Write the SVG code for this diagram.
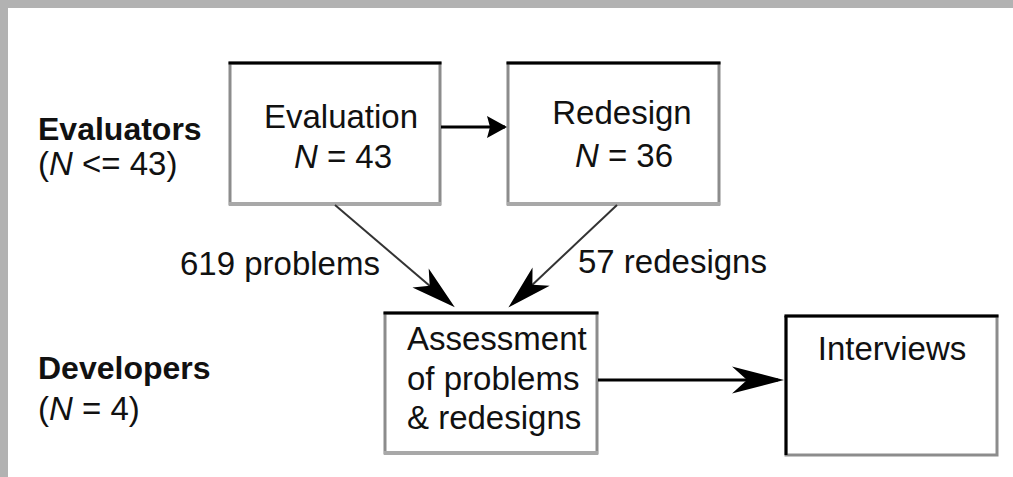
<svg xmlns="http://www.w3.org/2000/svg" width="1013" height="477" viewBox="0 0 1013 477">
<style>
.t{font-family:"Liberation Sans",Arial,sans-serif;font-size:33px;fill:#111}
.h{font-weight:bold;font-size:32px}
.box{fill:#fff;stroke:#8c8c8c;stroke-width:3}
.top{stroke:#000;stroke-width:3}
.bot{stroke:#a8a8a8;stroke-width:4}
.c{fill:none;stroke:#000;stroke-width:3}
.d{fill:none;stroke:#333;stroke-width:2}
</style>
<defs>
<marker id="tri" markerUnits="userSpaceOnUse" markerWidth="24" markerHeight="26" viewBox="0 -13 24 26" refX="18" refY="0" orient="auto" overflow="visible">
<path d="M0,-11 L20,0 L0,11 L3,0 Z" fill="#000"/>
</marker>
<marker id="stealthH" markerUnits="userSpaceOnUse" markerWidth="56" markerHeight="30" viewBox="0 -15 56 30" refX="46" refY="0" orient="auto" overflow="visible">
<path d="M0,-13.5 L52,0 L0,13.5 L15,0 Z" fill="#000"/>
</marker>
<marker id="stealthD" markerUnits="userSpaceOnUse" markerWidth="48" markerHeight="28" viewBox="0 -14 48 28" refX="40" refY="0" orient="auto" overflow="visible">
<path d="M0,-12.5 L45,0 L0,12.5 L12,0 Z" fill="#000"/>
</marker>
</defs>
<rect x="0" y="0" width="1013" height="477" fill="#fff"/>
<rect x="0" y="0" width="1013" height="8" fill="#b2b2b2"/>
<rect x="0" y="0" width="8" height="477" fill="#b2b2b2"/>

<g id="label-evaluators">
<text class="t h" x="38" y="140">Evaluators</text>
<text class="t" x="38" y="175">(<tspan font-style="italic">N</tspan> &lt;= 43)</text>
</g>
<g id="label-developers">
<text class="t h" x="38" y="379">Developers</text>
<text class="t" x="38" y="420">(<tspan font-style="italic">N</tspan> = 4)</text>
</g>

<g id="node-evaluation">
<rect class="box" x="230" y="63" width="210" height="141"/>
<line class="bot" x1="229" y1="204" x2="441" y2="204"/>
<line class="top" x1="228.5" y1="63" x2="441.5" y2="63"/>
<text class="t" x="341" y="128" text-anchor="middle">Evaluation</text>
<text class="t" x="343" y="168" text-anchor="middle"><tspan font-style="italic">N</tspan> = 43</text>
</g>

<g id="node-redesign">
<rect class="box" x="508" y="63" width="211" height="141"/>
<line class="bot" x1="507" y1="204" x2="720" y2="204"/>
<line class="top" x1="506.5" y1="63" x2="720.5" y2="63"/>
<text class="t" x="622" y="124" text-anchor="middle">Redesign</text>
<text class="t" x="624" y="167" text-anchor="middle"><tspan font-style="italic">N</tspan> = 36</text>
</g>

<g id="node-assessment">
<rect class="box" x="385" y="313" width="212" height="140"/>
<line class="bot" x1="384" y1="453" x2="598" y2="453"/>
<line class="top" x1="383.5" y1="313" x2="598.5" y2="313"/>
<text class="t" x="407" y="350">Assessment</text>
<text class="t" x="407" y="390">of problems</text>
<text class="t" x="407" y="429">&amp; redesigns</text>
</g>

<g id="node-interviews">
<rect class="box" x="786" y="316" width="211" height="139" stroke="#777"/>
<line class="top" x1="784.5" y1="316" x2="998.5" y2="316"/>
<line class="top" x1="786" y1="316" x2="786" y2="455"/>
<text class="t" x="892" y="360" text-anchor="middle">Interviews</text>
</g>

<g id="connectors">
<line class="c" x1="441" y1="127" x2="505" y2="127" marker-end="url(#tri)"/>
<line class="d" x1="335" y1="205" x2="451" y2="304" marker-end="url(#stealthD)"/>
<line class="d" x1="617" y1="205" x2="512" y2="304" marker-end="url(#stealthD)"/>
<line class="c" x1="598" y1="380" x2="778" y2="380" marker-end="url(#stealthH)"/>
<text class="t" x="180" y="275">619 problems</text>
<text class="t" x="578" y="273">57 redesigns</text>
</g>
</svg>
